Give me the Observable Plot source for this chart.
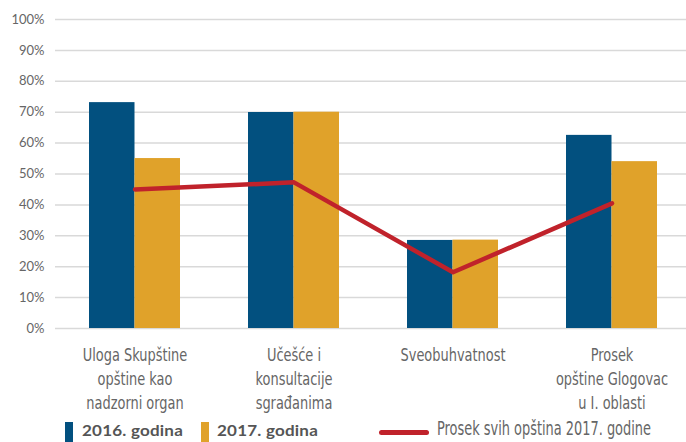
<!DOCTYPE html>
<html>
<head>
<meta charset="utf-8">
<script src="https://cdn.jsdelivr.net/npm/d3@7"></script>
<script src="https://cdn.jsdelivr.net/npm/@observablehq/plot@0.6"></script>
<style>
  html, body { margin: 0; padding: 0; background: #fff; }
  #wrap { width: 686px; height: 442px; position: relative; overflow: hidden; }
  #chart { position: absolute; left: 0; top: 0; }
  .legend { position: absolute; left: 0; top: 412px; width: 686px; height: 30px; }
  .sw { position: absolute; top: 10px; width: 8px; height: 22px; }
  .lt { position: absolute; top: 8px; font-family: "Lato", sans-serif; font-weight: 700; font-size: 16px; color: #555; letter-spacing: 0.2px; white-space: nowrap; transform-origin: 0 0; }
  .ll { position: absolute; top: 18px; height: 5px; border-radius: 3px; background: #c0222b; }
  .lc { position: absolute; top: 5px; font-family: "DejaVu Sans", sans-serif; font-stretch: condensed; font-size: 19px; color: #666; white-space: nowrap; transform-origin: 0 0; }
  #chart svg g[aria-label="x-axis tick label"] text { font-family: "DejaVu Sans", sans-serif; font-stretch: condensed; }
</style>
</head>
<body>
<div id="wrap"><div id="chart"></div>
<div class="legend" id="legend"></div></div>
<script>
const categories = [
  "Uloga Skupštine\nopštine kao\nnadzorni organ",
  "Učešće i\nkonsultacije\nsgrađanima",
  "Sveobuhvatnost",
  "Prosek\nopštine Glogovac\nu I. oblasti"
];
const values2016 = [0.731, 0.699, 0.285, 0.625];
const values2017 = [0.55, 0.70, 0.286, 0.54];
const averageAll2017 = [0.45, 0.473, 0.182, 0.405];
const yTicks = [0, 0.1, 0.2, 0.3, 0.4, 0.5, 0.6, 0.7, 0.8, 0.9, 1.0];
const seriesNames = ["2016. godina", "2017. godina", "Prosek svih opština 2017. godine"];
const colors = ["#02507f", "#e0a22a", "#c0222b"];

const d16 = categories.map((c, i) => ({cat: c, v: values2016[i]}));
const d17 = categories.map((c, i) => ({cat: c, v: values2017[i]}));
const dAvg = categories.map((c, i) => ({cat: c, v: averageAll2017[i]}));

const chart = Plot.plot({
  width: 686,
  height: 420,
  marginTop: 19,
  marginBottom: 92,
  marginLeft: 55,
  marginRight: 0,
  style: {fontFamily: "Lato, sans-serif", background: "transparent"},
  x: {domain: categories, range: [55, 691], padding: 0},
  y: {domain: [0, 1]},
  marks: [
    Plot.ruleY(yTicks, {stroke: "#d9d9d9", strokeWidth: 1.5}),
    Plot.axisY({ticks: yTicks, tickFormat: d3.format(".0%"), tickSize: 0, tickPadding: 11, fontSize: 13, color: "#666", label: null}),
    Plot.axisX({tickSize: 0, tickPadding: 16, fontSize: 18, lineHeight: 1.33, label: null, color: "#666"}),
    Plot.barY(d16, {x: "cat", y: "v", fill: colors[0], insetLeft: 34, insetRight: 79.5}),
    Plot.barY(d17, {x: "cat", y: "v", fill: colors[1], insetLeft: 79.5, insetRight: 34}),
    Plot.lineY(dAvg, {x: "cat", y: "v", stroke: colors[2], strokeWidth: 4.5})
  ]
});
document.getElementById("chart").appendChild(chart);
// narrow the condensed category labels horizontally
chart.querySelectorAll('g[aria-label="x-axis tick label"] text').forEach(t => {
  const tr = t.getAttribute("transform") || "";
  t.setAttribute("transform", tr + " scale(0.8,1)");
});

const lg = document.getElementById("legend");
lg.innerHTML = `
  <div class="sw" style="left:65px;background:${colors[0]}"></div>
  <div class="lt" id="lt1" style="left:82px">${seriesNames[0]}</div>
  <div class="sw" style="left:201px;background:${colors[1]}"></div>
  <div class="lt" id="lt2" style="left:217px">${seriesNames[1]}</div>
  <div class="ll" style="left:379px;width:50px"></div>
  <div class="lc" id="lc" style="left:437px">${seriesNames[2]}</div>`;
function fit(id, target) {
  const el = document.getElementById(id);
  const w = el.getBoundingClientRect().width;
  if (w > 0) el.style.transform = `scaleX(${target / w})`;
}
fit("lt1", 101);
fit("lt2", 101);
fit("lc", 214);
</script>
</body>
</html>
